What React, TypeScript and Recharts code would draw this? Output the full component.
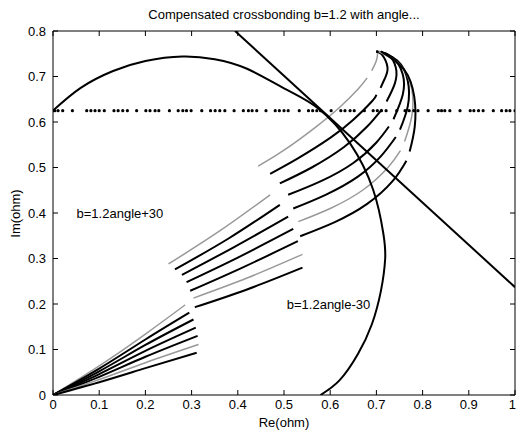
import { ComposedChart, Line, XAxis, YAxis, ReferenceLine, ReferenceDot } from "recharts";

type Pt = [number, number];

const title = "Compensated crossbonding b=1.2 with angle...";
const xTicks = [0, 0.1, 0.2, 0.3, 0.4, 0.5, 0.6, 0.7, 0.8, 0.9, 1];
const yTicks = [0, 0.1, 0.2, 0.3, 0.4, 0.5, 0.6, 0.7, 0.8];

// row of markers at Im = 0.625
const dotLevel = 0.625;
const dotRe = [
  0, 0.004, 0.011, 0.021, 0.042, 0.073, 0.082, 0.091, 0.1, 0.111, 0.132, 0.141, 0.151, 0.161,
  0.181, 0.201, 0.21, 0.221, 0.229, 0.252, 0.271, 0.281, 0.289, 0.299, 0.322, 0.341, 0.351,
  0.361, 0.372, 0.392, 0.412, 0.423, 0.431, 0.441, 0.461, 0.481, 0.49, 0.5, 0.509, 0.533,
  0.553, 0.562, 0.571, 0.579, 0.602, 0.623, 0.632, 0.643, 0.652, 0.674, 0.693, 0.702, 0.711,
  0.721, 0.744, 0.762, 0.771, 0.781, 0.79, 0.812, 0.834, 0.841, 0.848, 0.859, 0.881, 0.903,
  0.911, 0.921, 0.931, 0.953, 0.971, 0.981, 0.989, 1,
];

const circleArc: Pt[] = [
  [0, 0.625], [0.06, 0.675], [0.13, 0.712], [0.2, 0.734], [0.28, 0.744], [0.35, 0.738],
  [0.42, 0.717], [0.5, 0.674], [0.574, 0.63], [0.643, 0.553], [0.693, 0.451], [0.715, 0.355],
  [0.719, 0.3], [0.71, 0.23], [0.69, 0.155], [0.66, 0.09], [0.62, 0.032], [0.579, 0],
];

const straightLine: Pt[] = [[0.394, 0.8], [1, 0.237]];

// first section, from the origin
const lowerSegs: Pt[][] = [
  [[0, 0], [0.1, 0.064], [0.2, 0.134], [0.286, 0.198]],
  [[0, 0], [0.1, 0.058], [0.2, 0.122], [0.295, 0.181]],
  [[0, 0], [0.1, 0.052], [0.2, 0.11], [0.304, 0.166]],
  [[0, 0], [0.1, 0.046], [0.2, 0.097], [0.309, 0.148]],
  [[0, 0], [0.1, 0.04], [0.2, 0.084], [0.313, 0.13]],
  [[0, 0], [0.1, 0.034], [0.2, 0.071], [0.315, 0.111]],
  [[0, 0], [0.1, 0.028], [0.2, 0.059], [0.311, 0.093]],
];

// second section
const middleSegs: Pt[][] = [
  [[0.25, 0.288], [0.36, 0.36], [0.47, 0.44]],
  [[0.264, 0.276], [0.38, 0.344], [0.491, 0.418]],
  [[0.279, 0.264], [0.39, 0.324], [0.509, 0.392]],
  [[0.289, 0.248], [0.4, 0.302], [0.52, 0.365]],
  [[0.297, 0.229], [0.41, 0.28], [0.53, 0.338]],
  [[0.304, 0.213], [0.42, 0.257], [0.54, 0.309]],
  [[0.307, 0.193], [0.42, 0.232], [0.54, 0.28]],
];

// third section, up to a small break
const upperSegs: Pt[][] = [
  [[0.444, 0.503], [0.5, 0.538], [0.57, 0.59], [0.62, 0.632], [0.66, 0.672], [0.68, 0.697]],
  [[0.47, 0.486], [0.53, 0.52], [0.6, 0.565], [0.65, 0.605], [0.69, 0.645], [0.7, 0.66]],
  [[0.491, 0.465], [0.56, 0.5], [0.63, 0.545], [0.68, 0.59], [0.712, 0.628]],
  [[0.509, 0.44], [0.58, 0.47], [0.65, 0.51], [0.7, 0.555], [0.727, 0.59]],
  [[0.52, 0.41], [0.59, 0.44], [0.66, 0.48], [0.71, 0.525], [0.742, 0.567]],
  [[0.531, 0.381], [0.6, 0.41], [0.67, 0.45], [0.725, 0.5], [0.752, 0.537]],
  [[0.535, 0.349], [0.61, 0.38], [0.68, 0.42], [0.735, 0.47], [0.765, 0.515]],
];

// last section, curling into the common end point
const topSegs: Pt[][] = [
  [[0.69, 0.713], [0.7, 0.735], [0.703, 0.755]],
  [[0.709, 0.675], [0.718, 0.695], [0.724, 0.72], [0.712, 0.748], [0.7, 0.755]],
  [[0.722, 0.645], [0.74, 0.685], [0.742, 0.72], [0.725, 0.748], [0.7, 0.755]],
  [[0.737, 0.606], [0.757, 0.66], [0.757, 0.705], [0.735, 0.742], [0.7, 0.755]],
  [[0.751, 0.583], [0.768, 0.635], [0.768, 0.69], [0.745, 0.735], [0.7, 0.755]],
  [[0.761, 0.557], [0.777, 0.615], [0.776, 0.675], [0.752, 0.725], [0.705, 0.755]],
  [[0.772, 0.535], [0.783, 0.59], [0.782, 0.655], [0.76, 0.715], [0.71, 0.755]],
];

const grayCurves = [0, 5];

const notes = [
  { x: 0.051, y: 0.4, text: "b=1.2angle+30" },
  { x: 0.506, y: 0.2, text: "b=1.2angle-30" },
];

const FONT = "'Liberation Sans', Arial, Helvetica, sans-serif";
const W = 516;
const H = 432;
const PLOT_L = 53;
const PLOT_R = 515;
const PLOT_T = 31;
const PLOT_B = 395;
const TICK = 5;

const toRows = (pts: Pt[]) => pts.map(([x, y]) => ({ x, y }));

function XTick(props: any) {
  const { x, payload } = props;
  const last = payload.value === xTicks[xTicks.length - 1];
  return (
    <g>
      <line x1={x} y1={PLOT_B} x2={x} y2={PLOT_B - TICK} stroke="#000" />
      <line x1={x} y1={PLOT_T} x2={x} y2={PLOT_T + TICK} stroke="#000" />
      <text
        x={last ? W : x}
        y={PLOT_B + 14}
        textAnchor={last ? "end" : "middle"}
        fontSize={13}
        fontFamily={FONT}
        fill="#000"
      >
        {String(payload.value)}
      </text>
    </g>
  );
}

function YTick(props: any) {
  const { y, payload } = props;
  return (
    <g>
      <line x1={PLOT_L} y1={y} x2={PLOT_L + TICK} y2={y} stroke="#000" />
      <line x1={PLOT_R} y1={y} x2={PLOT_R - TICK} y2={y} stroke="#000" />
      <text x={PLOT_L - 7} y={y + 4.5} textAnchor="end" fontSize={13} fontFamily={FONT} fill="#000">
        {String(payload.value)}
      </text>
    </g>
  );
}

export default function App() {
  const segs = [lowerSegs, middleSegs, upperSegs, topSegs];
  return (
    <div style={{ position: "relative", width: W, height: H, background: "#fff", fontFamily: FONT }}>
      <style>{"body{margin:0;background:#fff}"}</style>
      <div
        style={{
          position: "absolute", left: PLOT_L, width: PLOT_R - PLOT_L, top: 7,
          textAlign: "center", fontSize: 13, lineHeight: "15px", color: "#000",
        }}
      >
        {title}
      </div>
      <ComposedChart
        width={W}
        height={H}
        margin={{ top: PLOT_T, right: W - PLOT_R, bottom: 0, left: 0 }}
      >
        <XAxis
          type="number"
          dataKey="x"
          domain={[0, 1]}
          ticks={xTicks}
          allowDataOverflow
          height={H - PLOT_B}
          tickSize={0}
          tickMargin={0}
          tick={<XTick />}
          axisLine={{ stroke: "#000" }}
          interval={0}
        />
        <YAxis
          type="number"
          domain={[0, 0.8]}
          ticks={yTicks}
          allowDataOverflow
          width={PLOT_L}
          tickSize={0}
          tickMargin={0}
          tick={<YTick />}
          axisLine={{ stroke: "#000" }}
          interval={0}
        />
        <ReferenceLine y={0.8} stroke="#000" />
        <ReferenceLine x={1} stroke="#000" />
        {segs.map((group, g) =>
          group.map((pts, i) => (
            <Line
              key={`s${g}-${i}`}
              data={toRows(pts)}
              dataKey="y"
              type="natural"
              stroke={grayCurves.includes(i) ? "#999" : "#000"}
              strokeWidth={grayCurves.includes(i) ? 1.5 : 2}
              dot={false}
              activeDot={false}
              isAnimationActive={false}
            />
          ))
        )}
        <Line
          data={toRows(circleArc)}
          dataKey="y"
          type="natural"
          stroke="#000"
          strokeWidth={2}
          dot={false}
          activeDot={false}
          isAnimationActive={false}
        />
        <Line
          data={toRows(straightLine)}
          dataKey="y"
          type="linear"
          stroke="#000"
          strokeWidth={2}
          dot={false}
          activeDot={false}
          isAnimationActive={false}
        />
        <Line
          data={dotRe.map((x) => ({ x, y: dotLevel }))}
          dataKey="y"
          stroke="none"
          dot={{ r: 1.6, fill: "#000", stroke: "none" }}
          activeDot={false}
          isAnimationActive={false}
        />
        {notes.map((n) => (
          <ReferenceDot
            key={n.text}
            x={n.x}
            y={n.y}
            r={0}
            fill="none"
            stroke="none"
            label={{ value: n.text, position: "right", offset: 0, fontSize: 13, fill: "#000", fontFamily: FONT }}
          />
        ))}
      </ComposedChart>
      <div
        style={{
          position: "absolute", left: PLOT_L, width: PLOT_R - PLOT_L, top: 415,
          textAlign: "center", fontSize: 13, lineHeight: "15px", color: "#000",
        }}
      >
        Re(ohm)
      </div>
      <div
        style={{
          position: "absolute", left: 15 - 50, width: 100, top: (PLOT_T + PLOT_B) / 2 - 7.5,
          textAlign: "center", fontSize: 13, lineHeight: "15px", color: "#000",
          transform: "rotate(-90deg)",
        }}
      >
        Im(ohm)
      </div>
    </div>
  );
}
